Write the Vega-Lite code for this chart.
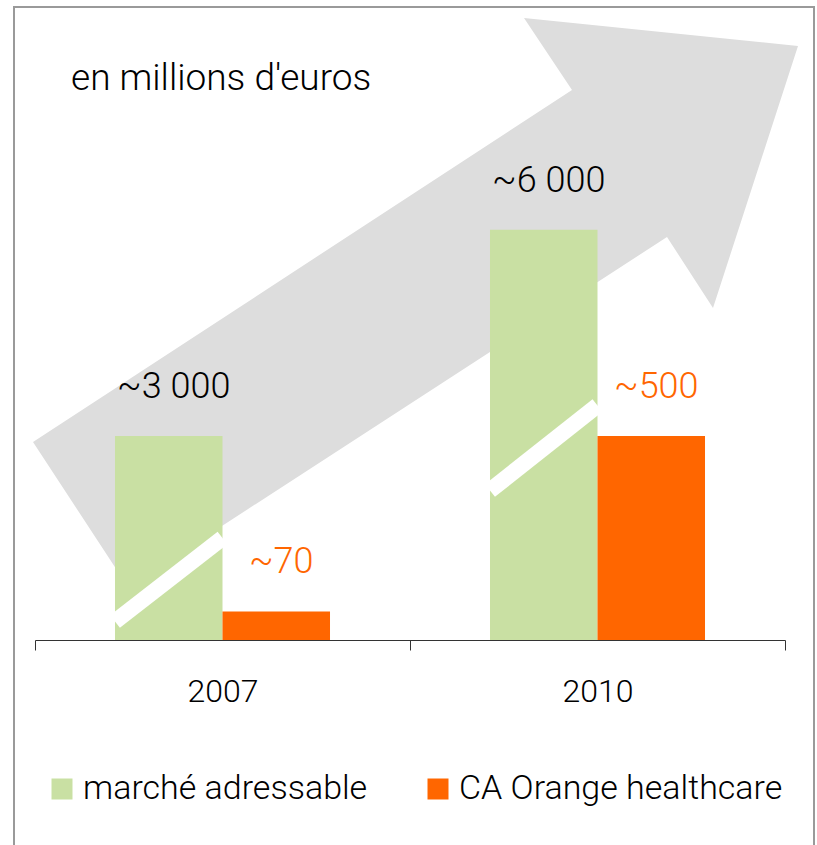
{
  "$schema": "https://vega.github.io/schema/vega-lite/v6.json",
  "autosize": "none",
  "width": 750,
  "height": 551,
  "padding": {"left": 35, "top": 89, "right": 32, "bottom": 205},
  "background": "#ffffff",
  "config": {"font": "Roboto", "text": {"fontWeight": 300}, "view": {"stroke": null}},
  "title": {"text": "en millions d'euros", "anchor": "start", "frame": "group", "font": "Roboto", "fontSize": 37, "fontWeight": 300, "color": "#000000", "baseline": "alphabetic", "offset": 0, "dx": 36, "dy": 121},
  "datasets": {
    "barres": [
      {"annee": "2007", "serie": "marché adressable", "valeur": 3000, "hauteur": 500, "libelle": "~3 000"},
      {"annee": "2007", "serie": "CA Orange healthcare", "valeur": 70, "hauteur": 70, "libelle": "~70"},
      {"annee": "2010", "serie": "marché adressable", "valeur": 6000, "hauteur": 1005, "libelle": "~6 000"},
      {"annee": "2010", "serie": "CA Orange healthcare", "valeur": 500, "hauteur": 500, "libelle": "~500"}
    ],
    "fleche": [
      {"ordre": 1, "x": 2005.484, "y": 485.1},
      {"ordre": 2, "x": 2006.244, "y": 129.9},
      {"ordre": 3, "x": 2010.556, "y": 987.4},
      {"ordre": 4, "x": 2010.924, "y": 813.4},
      {"ordre": 5, "x": 2011.604, "y": 1455.3},
      {"ordre": 6, "x": 2009.412, "y": 1523.9},
      {"ordre": 7, "x": 2009.796, "y": 1347.5}
    ],
    "rayures": [
      {"x": 2006.14, "x2": 2007.0, "y": 45.3, "y2": 249.9},
      {"x": 2009.14, "x2": 2010.0, "y": 366.3, "y2": 574.5}
    ],
    "cadre": [
      {"x": 2005.332, "x2": 2011.732, "y": 1550.9, "y2": -563.5}
    ]
  },
  "layer": [
    {
      "data": {"name": "fleche"},
      "mark": {"type": "line", "fill": "#dddddd", "stroke": "#dddddd", "strokeWidth": 0, "interpolate": "linear-closed"},
      "encoding": {
        "x": {"field": "x", "type": "quantitative", "scale": {"domain": [2005.5, 2011.5], "nice": false, "zero": false}, "axis": null},
        "y": {"field": "y", "type": "quantitative", "scale": {"domain": [0, 1350], "nice": false}, "axis": null},
        "order": {"field": "ordre", "type": "quantitative"}
      }
    },
    {
      "data": {"name": "barres"},
      "mark": {"type": "bar"},
      "encoding": {
        "x": {"field": "annee", "type": "nominal", "scale": {"paddingInner": 0, "paddingOuter": 0},
          "axis": {"title": null, "labelAngle": 0, "labelFont": "Roboto", "labelFontWeight": 300, "labelFontSize": 32, "labelColor": "#000000", "labelPadding": 26, "tickSize": 10, "tickBand": "extent", "domainColor": "#333333", "tickColor": "#333333", "domainWidth": 1, "tickWidth": 1, "grid": false}},
        "xOffset": {"field": "serie", "type": "nominal", "sort": ["marché adressable", "CA Orange healthcare"], "scale": {"paddingOuter": 0.744, "paddingInner": 0}},
        "y": {"field": "hauteur", "type": "quantitative", "scale": {"domain": [0, 1350], "nice": false}, "axis": null},
        "color": {"field": "serie", "type": "nominal", "sort": ["marché adressable", "CA Orange healthcare"],
          "scale": {"domain": ["marché adressable", "CA Orange healthcare"], "range": ["#c9e0a3", "#ff6600"]},
          "legend": {"title": null, "orient": "none", "legendX": 10, "legendY": 683, "direction": "horizontal", "symbolType": "square", "symbolSize": 441, "symbolStrokeWidth": 0, "labelFont": "Roboto", "labelFontWeight": 300, "labelFontSize": 34, "labelColor": "#000000", "labelOffset": 4, "columnPadding": 53, "padding": 0, "labelLimit": 500}}
      }
    },
    {
      "data": {"name": "rayures"},
      "mark": {"type": "rule", "color": "#ffffff", "strokeWidth": 16, "strokeCap": "butt"},
      "encoding": {
        "x": {"field": "x", "type": "quantitative", "scale": {"domain": [2005.5, 2011.5], "nice": false, "zero": false}, "axis": null},
        "x2": {"field": "x2"},
        "y": {"field": "y", "type": "quantitative", "scale": {"domain": [0, 1350], "nice": false}, "axis": null},
        "y2": {"field": "y2"}
      }
    },
    {
      "data": {"name": "barres"},
      "mark": {"type": "text", "font": "Roboto", "fontWeight": 300, "fontSize": 36, "baseline": "alphabetic", "align": "center", "dy": -38, "dx": 5},
      "encoding": {
        "x": {"field": "annee", "type": "nominal", "scale": {"paddingInner": 0, "paddingOuter": 0}, "axis": null},
        "xOffset": {"field": "serie", "type": "nominal", "sort": ["marché adressable", "CA Orange healthcare"], "scale": {"paddingOuter": 0.744, "paddingInner": 0}},
        "y": {"field": "hauteur", "type": "quantitative", "scale": {"domain": [0, 1350], "nice": false}, "axis": null},
        "text": {"field": "libelle"},
        "color": {"condition": {"test": "datum.serie === 'CA Orange healthcare'", "value": "#ff6600"}, "value": "#000000"}
      }
    },
    {
      "data": {"name": "cadre"},
      "mark": {"type": "rect", "fill": null, "stroke": "#9a9a9a", "strokeWidth": 2},
      "encoding": {
        "x": {"field": "x", "type": "quantitative", "scale": {"domain": [2005.5, 2011.5], "nice": false, "zero": false}, "axis": null},
        "x2": {"field": "x2"},
        "y": {"field": "y", "type": "quantitative", "scale": {"domain": [0, 1350], "nice": false}, "axis": null},
        "y2": {"field": "y2"}
      }
    }
  ],
  "resolve": {"scale": {"x": "independent"}, "axis": {"x": "independent"}}
}
